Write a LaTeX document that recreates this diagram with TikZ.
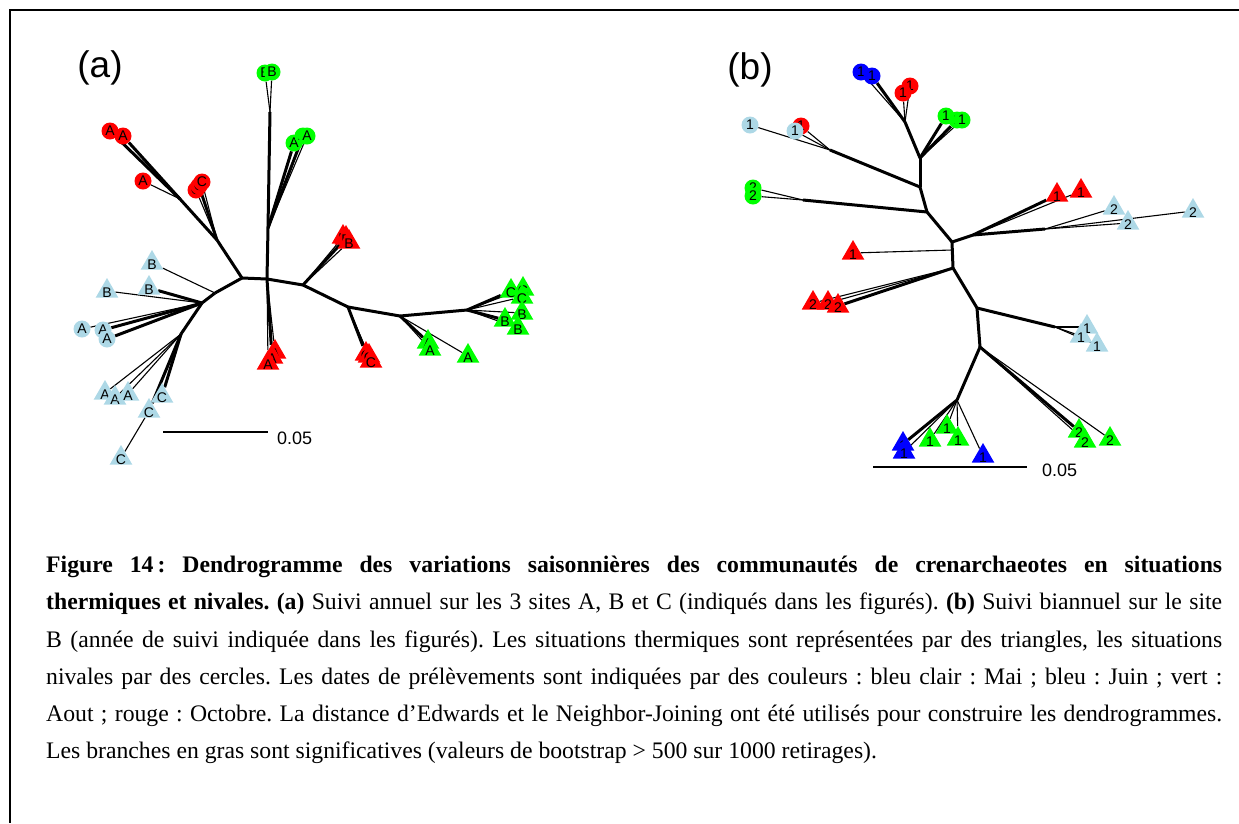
\documentclass[tikz,border=0pt]{standalone}
\usepackage{fontspec}
\setmainfont{Liberation Serif}
\setsansfont{Liberation Sans}
\usepackage{tikz}
\usetikzlibrary{shapes.geometric, backgrounds}

\definecolor{lblue}{RGB}{173,216,230}
\definecolor{gr}{RGB}{0,255,0}

\begin{document}
\begin{tikzpicture}[x=1pt, y=-1pt,
    mlab/.style={font=\sffamily\fontsize{14}{14}\selectfont, inner sep=0pt},
    circ/.style={circle, inner sep=0pt, minimum size=17pt, label={[mlab]center:#1}},
    tri/.style={regular polygon, regular polygon sides=3, inner sep=0pt, minimum size=26pt,
                label={[mlab, yshift=-2pt]center:#1}},
    brthick/.style={line width=3pt},
    brthin/.style={line width=1.1pt}
]
\useasboundingbox (0,0) rectangle (1239,823);

% frame
\coordinate (fr1) at (1239,10);
\coordinate (fr2) at (10,10);
\coordinate (fr3) at (10,823);
\draw[line width=1.4pt] (fr1) -- (fr2) -- (fr3);

\node[font=\sffamily\fontsize{37}{37}\selectfont] (tta) at (100,68) {(a)};
\node[font=\sffamily\fontsize{37}{37}\selectfont] (ttb) at (750,70) {(b)};

%%% tree (a)
\coordinate (a0)  at (242,278);
\coordinate (a1)  at (267,279);
\coordinate (ag1) at (270,112);
\coordinate (ag2) at (268,228);
\coordinate (ar1) at (217,240);
\coordinate (arA) at (180,199);
\coordinate (ab1) at (215,293);
\coordinate (ab2) at (202,303);
\coordinate (ac1) at (181,334);
\coordinate (a2)  at (303,285);
\coordinate (a3)  at (348,307);
\coordinate (a4)  at (400,316);
\coordinate (a5)  at (467,310);

% circles (nivales)
\node[circ=B, fill=gr] (gcB1) at (265,73) {};
\node[circ=B, fill=gr] (gcB2) at (272,72) {};
\node[circ=A, fill=gr] (gcA1) at (294,143) {};
\node[circ=A, fill=gr] (gcA2) at (303,136) {};
\node[circ=A, fill=gr] (gcA3) at (307,136) {};
\node[circ=A, fill=red] (rcA1) at (110,131) {};
\node[circ=A, fill=red] (rcA2) at (123,136) {};
\node[circ=A, fill=red] (rcA3) at (143,181) {};
\node[circ=C, fill=red] (rcC1) at (196,190) {};
\node[circ=C, fill=red] (rcC2) at (199,186) {};
\node[circ=C, fill=red] (rcC3) at (202,182) {};
\node[circ=A, fill=lblue] (lcA1) at (82,329) {};
\node[circ=A, fill=lblue] (lcA2) at (103,330) {};
\node[circ=A, fill=lblue] (lcA3) at (107,339) {};
% triangles (thermiques)
\node[tri=B, fill=lblue] (ltB1) at (152,263) {};
\node[tri=B, fill=lblue] (ltB2) at (107,291) {};
\node[tri=B, fill=lblue] (ltB3) at (149,288) {};
\node[tri=A, fill=lblue] (ltA1) at (105,393) {};
\node[tri=A, fill=lblue] (ltA2) at (115,398) {};
\node[tri=A, fill=lblue] (ltA3) at (128,394) {};
\node[tri=C, fill=lblue] (ltC1) at (162,396) {};
\node[tri=C, fill=lblue] (ltC2) at (149,411) {};
\node[tri=C, fill=lblue] (ltC3) at (121,458) {};
\node[tri=A, fill=red] (rtA1) at (275,352) {};
\node[tri=A, fill=red] (rtA2) at (272,357) {};
\node[tri=A, fill=red] (rtA3) at (268,363) {};
\node[tri=B, fill=red] (rtB1) at (343,237) {};
\node[tri=B, fill=red] (rtB2) at (346,238) {};
\node[tri=B, fill=red] (rtB3) at (349,242) {};
\node[tri=C, fill=red] (rtC1) at (366,354) {};
\node[tri=C, fill=red] (rtC2) at (369,356) {};
\node[tri=C, fill=red] (rtC3) at (371,361) {};
\node[tri=A, fill=gr] (gtA1) at (428,342) {};
\node[tri=A, fill=gr] (gtA2) at (430,349) {};
\node[tri=A, fill=gr] (gtA3) at (468,356) {};
\node[tri=C, fill=gr] (gtC1) at (511,291) {};
\node[tri=C, fill=gr] (gtC2) at (523,289) {};
\node[tri=C, fill=gr] (gtC3) at (522,297) {};
\node[tri=B, fill=gr] (gtB1) at (522,313) {};
\node[tri=B, fill=gr] (gtB2) at (505,320) {};
\node[tri=B, fill=gr] (gtB3) at (518,328) {};

\begin{scope}[on background layer]
\foreach \from/\to in {a0/a1, a1/ag2, ag2/ag1, ag2/gcA1, ag2/gcA2, a0/ar1, ar1/rcC2, ar1/arA,
    arA/rcA1, arA/rcA2, a0/ab1, ab1/ab2, ab2/ltB3, ab2/lcA2, ab2/lcA3, ab2/ac1, ac1/ltC1,
    ac1/ltC2, a1/rtA2, a1/a2, a2/rtB2, a2/a3, a3/rtC1, a3/a4, a4/gtA1, a4/a5, a5/gtC1, a5/gtB2}
    \draw[brthick] (\from) -- (\to);
\foreach \from/\to in {ag1/gcB1, ag1/gcB2, ag2/gcA3, arA/rcA3, ar1/rcC1, ar1/rcC3, ab1/ltB1,
    ab2/ltB2, ab2/lcA1, ac1/ltA1, ac1/ltA2, ac1/ltA3, ltC2/ltC3, a4/gtA2, a4/gtA3, a5/gtC2,
    a5/gtC3, a5/gtB1, a5/gtB3, a2/rtB1, a2/rtB3, a3/rtC2, a3/rtC3, a1/rtA1, a1/rtA3}
    \draw[brthin] (\from) -- (\to);
\end{scope}

% scale bar (a)
\coordinate (sa0) at (163,432);
\coordinate (sa1) at (268,432);
\draw[brthin] (sa0) -- (sa1);
\node[anchor=west, font=\sffamily\fontsize{18}{18}\selectfont, inner sep=0pt] (sal) at (277,438) {0.05};

%%% tree (b)
\coordinate (b1)  at (905,122);
\coordinate (b2)  at (920,158);
\coordinate (b3)  at (920,187);
\coordinate (b3a) at (830,150);
\coordinate (b4)  at (927,212);
\coordinate (b4a) at (803,200);
\coordinate (b5)  at (952,242);
\coordinate (b6)  at (973,235);
\coordinate (b6b) at (1045,229);
\coordinate (b7)  at (952,250);
\coordinate (b8)  at (953,268);
\coordinate (b9)  at (977,308);
\coordinate (b9a) at (1055,327);
\coordinate (b10) at (980,347);
\coordinate (b11) at (957,400);

% circles (nivales)
\node[circ=1, fill=blue] (bcB1) at (861,72) {};
\node[circ=1, fill=blue] (bcB2) at (872,76) {};
\node[circ=1, fill=red] (rcb2) at (910,86) {};
\node[circ=1, fill=red] (rcb1) at (903,93) {};
\node[circ=1, fill=gr] (gcb1) at (946,116) {};
\node[circ=1, fill=gr] (gcb2) at (957,120) {};
\node[circ=1, fill=gr] (gcb3) at (962,120) {};
\node[circ=1, fill=lblue] (lcb1) at (750,125) {};
\node[circ=1, fill=red] (rcb3) at (801,126) {};
\node[circ=1, fill=lblue] (lcb2) at (795,131) {};
\node[circ=2, fill=gr] (gcb4) at (753,188) {};
\node[circ=2, fill=gr] (gcb5) at (753,196) {};
% triangles (thermiques)
\node[tri=1, fill=red] (rtb1) at (853,253) {};
\node[tri=2, fill=red] (rtb2) at (813,303) {};
\node[tri=2, fill=red] (rtb3) at (828,303) {};
\node[tri=2, fill=red] (rtb4) at (838,306) {};
\node[tri=1, fill=red] (rtb5) at (1057,195) {};
\node[tri=1, fill=red] (rtb6) at (1081,191) {};
\node[tri=2, fill=lblue] (ltb1) at (1114,208) {};
\node[tri=2, fill=lblue] (ltb2) at (1128,223) {};
\node[tri=2, fill=lblue] (ltb3) at (1193,211) {};
\node[tri=1, fill=lblue] (ltb4) at (1087,327) {};
\node[tri=1, fill=lblue] (ltb5) at (1081,336) {};
\node[tri=1, fill=lblue] (ltb6) at (1097,345) {};
\node[tri=2, fill=gr] (gtb1) at (1079,431) {};
\node[tri=2, fill=gr] (gtb2) at (1085,441) {};
\node[tri=2, fill=gr] (gtb3) at (1110,439) {};
\node[tri=1, fill=blue] (btb1) at (903,444) {};
\node[tri=1, fill=blue] (btb2) at (904,452) {};
\node[tri=1, fill=gr] (gtb4) at (930,440) {};
\node[tri=1, fill=gr] (gtb5) at (947,427) {};
\node[tri=1, fill=gr] (gtb6) at (958,439) {};
\node[tri=1, fill=blue] (btb3) at (983,456) {};

\begin{scope}[on background layer]
\foreach \from/\to in {b1/b2, b2/b3, b3/b4, b4/b5, b5/b6, b5/b8, b8/b9, b9/b10, b10/b11,
    b3/b3a, b4/b4a, b6/rtb5, b6/b6b, b9/b9a, b8/rtb4, b10/gtb1, b11/btb1, b2/gcb1, b2/gcb2, b1/bcB2}
    \draw[brthick] (\from) -- (\to);
\foreach \from/\to in {b1/bcB1, b1/rcb1, b1/rcb2, b2/gcb3, b3a/lcb1, b3a/lcb2, b3a/rcb3,
    b4a/gcb4, b4a/gcb5, b7/rtb1, b6/rtb6, b6b/ltb1, b6b/ltb2, b6b/ltb3, b9a/ltb4, b9a/ltb5,
    b9a/ltb6, b8/rtb2, b8/rtb3, b10/gtb2, b10/gtb3, b11/btb2, b11/gtb4, b11/gtb5, b11/gtb6, b11/btb3}
    \draw[brthin] (\from) -- (\to);
\end{scope}

% scale bar (b)
\coordinate (sb0) at (873,467);
\coordinate (sb1) at (1027,467);
\draw[brthin] (sb0) -- (sb1);
\node[anchor=west, font=\sffamily\fontsize{18}{18}\selectfont, inner sep=0pt] (sbl) at (1042,470) {0.05};

% caption
\node[anchor=north west, inner sep=0pt, align=left, text width=1176pt,
      font=\fontsize{23.7}{37.2}\selectfont] (cap) at (46,556) {\spaceskip=0pt\xspaceskip=0pt\frenchspacing
\makebox[1176pt][s]{\textbf{Figure 14\,: Dendrogramme des variations saisonnières des communautés de crenarchaeotes en situations}}\\
\makebox[1176pt][s]{\textbf{thermiques et nivales. (a)} Suivi annuel sur les 3 sites A, B et C (indiqués dans les figurés). \textbf{(b)} Suivi biannuel sur le site}\\
\makebox[1176pt][s]{B (année de suivi indiquée dans les figurés). Les situations thermiques sont représentées par des triangles, les situations}\\
\makebox[1176pt][s]{nivales par des cercles. Les dates de prélèvements sont indiquées par des couleurs : bleu clair : Mai ; bleu : Juin ; vert :}\\
\makebox[1176pt][s]{Aout ; rouge : Octobre. La distance d’Edwards et le Neighbor-Joining ont été utilisés pour construire les dendrogrammes.}\\
Les branches en gras sont significatives (valeurs de bootstrap > 500 sur 1000 retirages).};
\end{tikzpicture}
\end{document}
